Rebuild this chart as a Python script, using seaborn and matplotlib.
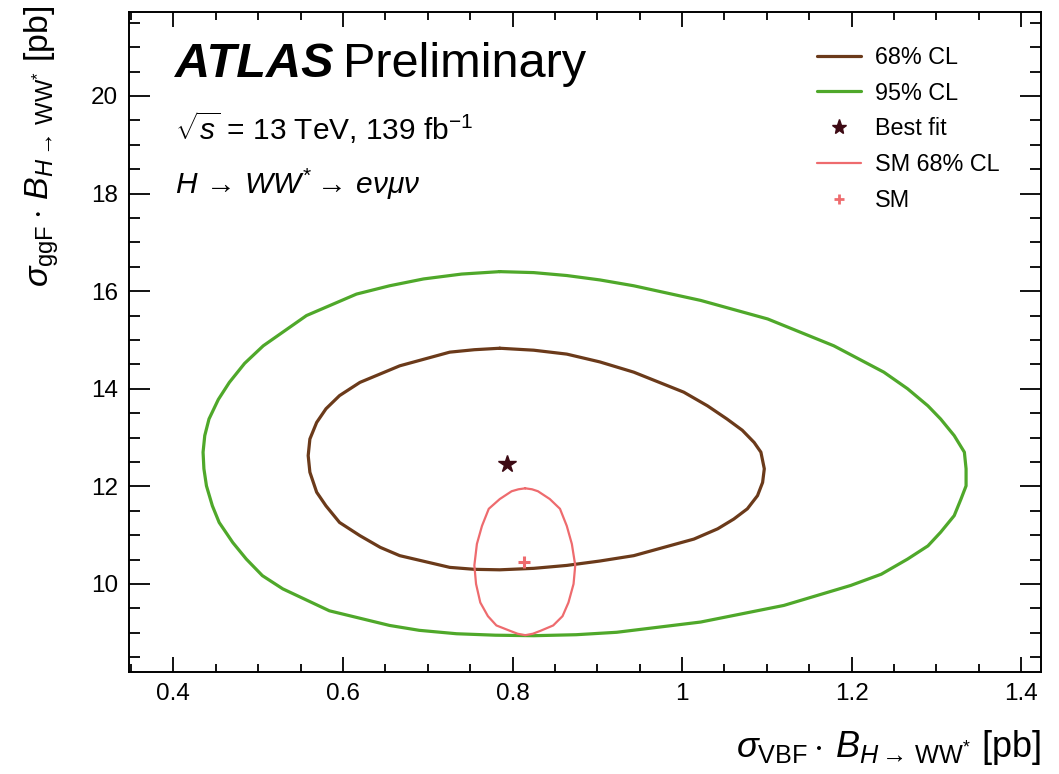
import matplotlib
matplotlib.use("Agg")
import matplotlib.pyplot as plt
from matplotlib.lines import Line2D
from matplotlib.ticker import MultipleLocator
import seaborn as sns
import numpy as np

# contour points (sigma_VBF*B, sigma_ggF*B) in pb
cl95_x = [0.785, 0.825, 0.864, 0.903, 0.943, 1.022, 1.101, 1.179, 1.238, 1.266,
          1.290, 1.305, 1.321, 1.333, 1.335, 1.335, 1.329, 1.321, 1.305, 1.290,
          1.266, 1.235, 1.199, 1.120, 1.022, 0.923, 0.875, 0.825, 0.780, 0.734,
          0.690, 0.655, 0.584, 0.529, 0.505, 0.486, 0.470, 0.454, 0.446, 0.439,
          0.436, 0.435, 0.437, 0.442, 0.453, 0.466, 0.484, 0.506, 0.557, 0.616,
          0.655, 0.695, 0.740]
cl95_y = [16.40, 16.38, 16.32, 16.23, 16.11, 15.81, 15.43, 14.88, 14.34, 14.00,
          13.65, 13.38, 13.04, 12.70, 12.36, 12.01, 11.74, 11.40, 11.06, 10.78,
          10.51, 10.20, 9.97, 9.56, 9.22, 9.01, 8.96, 8.94, 8.95, 8.98,
          9.05, 9.15, 9.45, 9.90, 10.17, 10.51, 10.85, 11.26, 11.60, 12.01,
          12.36, 12.70, 13.04, 13.38, 13.78, 14.13, 14.52, 14.88, 15.50, 15.94,
          16.11, 16.25, 16.35]

cl68_x = [0.785, 0.825, 0.864, 0.903, 0.943, 1.002, 1.030, 1.053, 1.071, 1.085,
          1.093, 1.097, 1.095, 1.089, 1.077, 1.061, 1.042, 1.014, 0.943, 0.903,
          0.864, 0.825, 0.785, 0.755, 0.726, 0.667, 0.644, 0.620, 0.596, 0.580,
          0.569, 0.561, 0.559, 0.561, 0.569, 0.580, 0.596, 0.620, 0.667, 0.726,
          0.755]
cl68_y = [14.83, 14.79, 14.71, 14.55, 14.34, 13.93, 13.65, 13.38, 13.15, 12.90,
          12.70, 12.36, 12.08, 11.81, 11.54, 11.33, 11.13, 10.92, 10.58, 10.47,
          10.38, 10.32, 10.29, 10.30, 10.34, 10.58, 10.75, 10.99, 11.26, 11.60,
          11.88, 12.29, 12.63, 12.97, 13.31, 13.59, 13.86, 14.13, 14.47, 14.75,
          14.80]

sm68_x = [0.815, 0.823, 0.830, 0.844, 0.856, 0.864, 0.870, 0.874, 0.872, 0.866,
          0.859, 0.848, 0.833, 0.824, 0.815, 0.806, 0.797, 0.781, 0.771, 0.762,
          0.757, 0.755, 0.758, 0.764, 0.772, 0.785, 0.799, 0.807]
sm68_y = [11.96, 11.94, 11.90, 11.74, 11.54, 11.19, 10.82, 10.38, 10.00, 9.62,
          9.34, 9.15, 9.04, 8.98, 8.95, 8.98, 9.04, 9.15, 9.34, 9.62,
          10.00, 10.38, 10.82, 11.19, 11.54, 11.74, 11.90, 11.94]

best_fit = (0.793, 12.46)
sm_point = (0.814, 10.46)

legend_labels = ["68% CL", "95% CL", "Best fit", "SM 68% CL", "SM"]

c_68 = "#6b3a1a"
c_95 = "#4fa82a"
c_sm = "#ee6b6e"
c_star = "#3d0a14"

sns.set_theme(style="ticks")
plt.rcParams["font.family"] = ["Liberation Sans", "DejaVu Sans"]
plt.rcParams["mathtext.fontset"] = "custom"
plt.rcParams["mathtext.rm"] = "Liberation Sans"
plt.rcParams["mathtext.it"] = "Liberation Sans:italic"
plt.rcParams["mathtext.bf"] = "Liberation Sans:bold"
plt.rcParams["text.color"] = "black"
plt.rcParams["axes.labelcolor"] = "black"
plt.rcParams["xtick.color"] = "black"
plt.rcParams["ytick.color"] = "black"
plt.rcParams["lines.solid_joinstyle"] = "round"

fig = plt.figure(figsize=(10.59, 7.74), dpi=100)
ax = fig.add_axes([0.1221, 0.1314, 0.8606, 0.8531])


def closed(v):
    return np.append(v, v[0])


sns.lineplot(x=closed(cl95_x), y=closed(cl95_y), sort=False, estimator=None,
             color=c_95, linewidth=2.3, ax=ax)
sns.lineplot(x=closed(cl68_x), y=closed(cl68_y), sort=False, estimator=None,
             color=c_68, linewidth=2.3, ax=ax)
sns.lineplot(x=closed(sm68_x), y=closed(sm68_y), sort=False, estimator=None,
             color=c_sm, linewidth=1.6, ax=ax)
ax.plot(*best_fit, marker="*", color=c_star, markersize=13, linestyle="none")
ax.plot(*sm_point, marker="+", color=c_sm, markersize=8, markeredgewidth=2.2,
        linestyle="none")

ax.set_xlim(0.348, 1.423)
ax.set_ylim(8.19, 21.72)
ax.xaxis.set_minor_locator(MultipleLocator(0.05))
ax.yaxis.set_major_locator(MultipleLocator(2))
ax.yaxis.set_minor_locator(MultipleLocator(0.5))
ax.set_xticks([0.4, 0.6, 0.8, 1.0, 1.2, 1.4])
ax.set_xticklabels(["0.4", "0.6", "0.8", "1", "1.2", "1.4"])

for s in ax.spines.values():
    s.set_linewidth(1.4)
    s.set_color("black")
ax.tick_params(which="both", direction="in", top=True, right=True,
               width=1.3, color="black")
ax.tick_params(axis="x", which="major", length=11, pad=8, labelsize=17.5)
ax.tick_params(axis="x", which="minor", length=6)
ax.tick_params(axis="y", which="major", length=15, pad=8, labelsize=17.5)
ax.tick_params(axis="y", which="minor", length=8)

ax.set_xlabel(r"$\sigma_{\mathrm{VBF}}\cdot\, B_{H\rightarrow\,\mathrm{WW}^{*}}$ [pb]",
              fontsize=26, ha="right")
ax.xaxis.set_label_coords(1.0, -0.085)
ax.set_ylabel(r"$\sigma_{\mathrm{ggF}}\cdot\, B_{H\rightarrow\,\mathrm{WW}^{*}}$ [pb]",
              fontsize=24.5, ha="right")
ax.yaxis.set_label_coords(-0.075, 1.01)

ax.text(0.05, 0.902, "ATLAS", transform=ax.transAxes, fontsize=35,
        fontweight="bold", fontstyle="italic", va="baseline")
ax.text(0.235, 0.902, "Preliminary", transform=ax.transAxes, fontsize=35,
        va="baseline")
ax.text(0.05, 0.806, r"$\sqrt{s}$ = 13 TeV, 139 fb$^{-1}$",
        transform=ax.transAxes, fontsize=21.5, va="baseline")
ax.text(0.05, 0.724, r"$H\,\rightarrow\,WW^{*}\rightarrow\,e\nu\mu\nu$",
        transform=ax.transAxes, fontsize=21.5, va="baseline")

handles = [
    Line2D([], [], color=c_68, linewidth=2.3),
    Line2D([], [], color=c_95, linewidth=2.3),
    Line2D([], [], color=c_star, marker="*", markersize=11, linestyle="none"),
    Line2D([], [], color=c_sm, linewidth=1.6),
    Line2D([], [], color=c_sm, marker="+", markersize=7, markeredgewidth=2,
           linestyle="none"),
]
ax.legend(handles, legend_labels, loc="upper left", bbox_to_anchor=(0.744, 0.963),
          frameon=False, fontsize=16.8, handlelength=1.9, handletextpad=0.6,
          labelspacing=0.55, borderaxespad=0)

fig.savefig("out.png", dpi=100)
